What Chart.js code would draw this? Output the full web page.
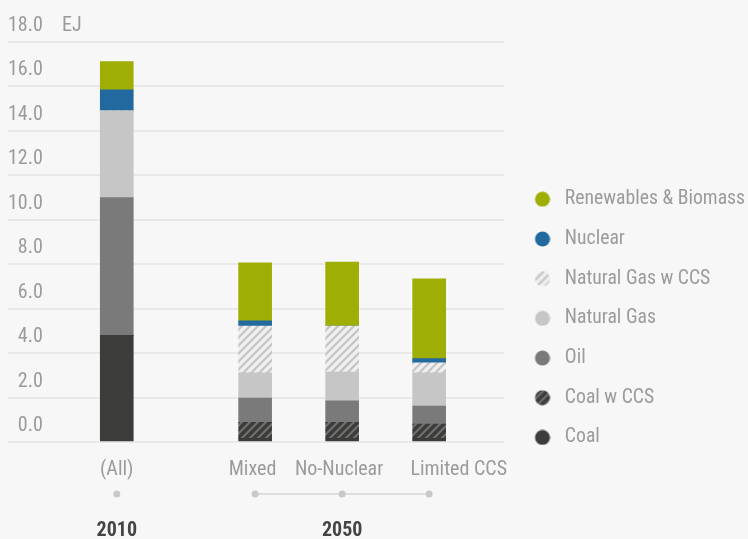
<!DOCTYPE html>
<html>
<head>
<meta charset="utf-8">
<script src="https://cdn.jsdelivr.net/npm/chart.js@4/dist/chart.umd.min.js"></script>
<style>
  html, body { margin: 0; padding: 0; background: #f7f7f7; }
  #wrap { width: 748px; height: 539px; }
</style>
</head>
<body>
<div id="wrap"><canvas id="grafico" width="748" height="539"></canvas></div>
<script>
// categorie e gruppi (anni)
const scenari = ['(All)', 'Mixed', 'No-Nuclear', 'Limited CCS'];
const anni = ['2010', '2050', '2050', '2050'];
const yTicks = [0, 2, 4, 6, 8, 10, 12, 14, 16, 18];

// valori in EJ, dal basso verso l'alto
const coal        = [4.80, 0.17, 0.17, 0.17];
const coalCCS     = [0.00, 0.72, 0.72, 0.64];
const oil         = [6.20, 1.09, 0.96, 0.81];
const natGas      = [3.90, 1.13, 1.30, 1.49];
const natGasCCS   = [0.00, 2.11, 2.07, 0.45];
const nuclear     = [0.95, 0.23, 0.00, 0.19];
const renewables  = [1.27, 2.61, 2.88, 3.59];

// posizione delle colonne sull'asse x (il 2010 e' staccato dal gruppo 2050)
const posX = [0, 1.59, 2.59, 3.59];
// le etichette non sono sempre centrate (Limited CCS spostata per non sovrapporsi)
const posEtichette = [0, 1.56, 2.555, 3.93];

const FONT = "'Roboto Condensed', Roboto, sans-serif";
const grigio = '#9b9b9b';

function creaTratteggio(sfondo, righe) {
    const c = document.createElement('canvas');
    c.width = 8; c.height = 8;
    const g = c.getContext('2d');
    g.fillStyle = sfondo;
    g.fillRect(0, 0, 8, 8);
    g.strokeStyle = righe;
    g.lineWidth = 2;
    g.beginPath();
    g.moveTo(0, 8); g.lineTo(8, 0);
    g.moveTo(-2, 2); g.lineTo(2, -2);
    g.moveTo(6, 10); g.lineTo(10, 6);
    g.stroke();
    return g.createPattern(c, 'repeat');
}

// pallino della legenda, spostato un po' a destra dentro la sua immagine
function creaPallino(riempimento) {
    const c = document.createElement('canvas');
    c.width = 22; c.height = 16;
    const g = c.getContext('2d');
    g.fillStyle = riempimento;
    g.beginPath();
    g.arc(14, 8, 7.5, 0, Math.PI * 2);
    g.fill();
    return c;
}

const ctx = document.getElementById('grafico').getContext('2d');

const serie = [
    { label: 'Coal', data: coal, colore: '#3c3c3b' },
    { label: 'Coal w CCS', data: coalCCS, colore: creaTratteggio('#3c3c3b', '#727272') },
    { label: 'Oil', data: oil, colore: '#7a7a7a' },
    { label: 'Natural Gas', data: natGas, colore: '#c6c6c6' },
    { label: 'Natural Gas w CCS', data: natGasCCS, colore: creaTratteggio('#efefef', '#c3c3c3') },
    { label: 'Nuclear', data: nuclear, colore: '#22699f' },
    { label: 'Renewables & Biomass', data: renewables, colore: '#9eae05' }
];

const pallini = serie.map(s => creaPallino(s.colore));

const datasets = serie.map(s => ({
    label: s.label,
    data: s.data.map((v, i) => ({ x: posX[i], y: v })),
    backgroundColor: s.colore,
    borderWidth: 0,
    barThickness: 33
}));

// pallini, linea del gruppo 2050 e anni sotto l'asse
const asseAnni = {
    id: 'asseAnni',
    afterDraw(chart) {
        const c = chart.ctx;
        const sx = chart.scales.x;
        const sy = chart.scales.y;
        const yDot = chart.chartArea.bottom + 52;
        const px = posX.map(v => sx.getPixelForValue(v));
        c.save();
        c.strokeStyle = '#d6d6d6';
        c.lineWidth = 1.5;
        c.beginPath();
        c.moveTo(px[1], yDot);
        c.lineTo(px[3], yDot);
        c.stroke();
        c.fillStyle = '#c9c9c9';
        px.forEach(x => {
            c.beginPath();
            c.arc(x, yDot, 3.5, 0, Math.PI * 2);
            c.fill();
        });
        c.fillStyle = '#444444';
        c.font = "bold 20px " + FONT;
        c.textAlign = 'center';
        c.textBaseline = 'middle';
        c.fillText(anni[0], px[0], yDot + 37);
        c.fillText(anni[2], px[2], yDot + 37);
        // unita' di misura
        c.fillStyle = grigio;
        c.font = "20px " + FONT;
        c.textAlign = 'left';
        c.fillText('EJ', 62, sy.getPixelForValue(18) - 16);
        c.restore();
    }
};

new Chart(ctx, {
    type: 'bar',
    data: { datasets: datasets },
    options: {
        responsive: false,
        animation: false,
        layout: { padding: { top: 42, left: 8, right: 0, bottom: 0 } },
        scales: {
            x: {
                type: 'linear',
                stacked: true,
                offset: false,
                min: -1.25,
                max: 4.45,
                afterBuildTicks: scale => { scale.ticks = posEtichette.map(v => ({ value: v })); },
                afterFit: scale => { scale.height = 97; },
                ticks: {
                    autoSkip: false,
                    maxRotation: 0,
                    padding: 16,
                    color: grigio,
                    font: { family: FONT, size: 20 },
                    callback: (value, index) => scenari[index]
                },
                grid: { display: false, drawTicks: false },
                border: { display: false }
            },
            y: {
                stacked: true,
                min: 0,
                max: 18,
                afterBuildTicks: scale => { scale.ticks = yTicks.map(v => ({ value: v })); },
                ticks: {
                    mirror: true,
                    crossAlign: 'far',
                    padding: 0,
                    labelOffset: -16,
                    color: grigio,
                    font: { family: FONT, size: 20 },
                    callback: v => v.toFixed(1)
                },
                grid: { color: '#e9e9e9', lineWidth: 2, drawTicks: false },
                border: { display: false }
            }
        },
        plugins: {
            legend: {
                position: 'right',
                align: 'start',
                reverse: true,
                maxWidth: 244,
                title: { display: true, text: '', padding: { top: 0, bottom: 107 }, font: { size: 17 } },
                labels: {
                    usePointStyle: true,
                    pointStyleWidth: 31,
                    boxHeight: 11,
                    padding: 20,
                    color: grigio,
                    font: { family: FONT, size: 19.7 },
                    generateLabels: chart => {
                        const base = Chart.defaults.plugins.legend.labels.generateLabels(chart);
                        base.forEach(it => { it.pointStyle = pallini[it.datasetIndex]; });
                        return base;
                    }
                }
            },
            tooltip: { enabled: false }
        }
    },
    plugins: [asseAnni]
});
</script>
</body>
</html>
